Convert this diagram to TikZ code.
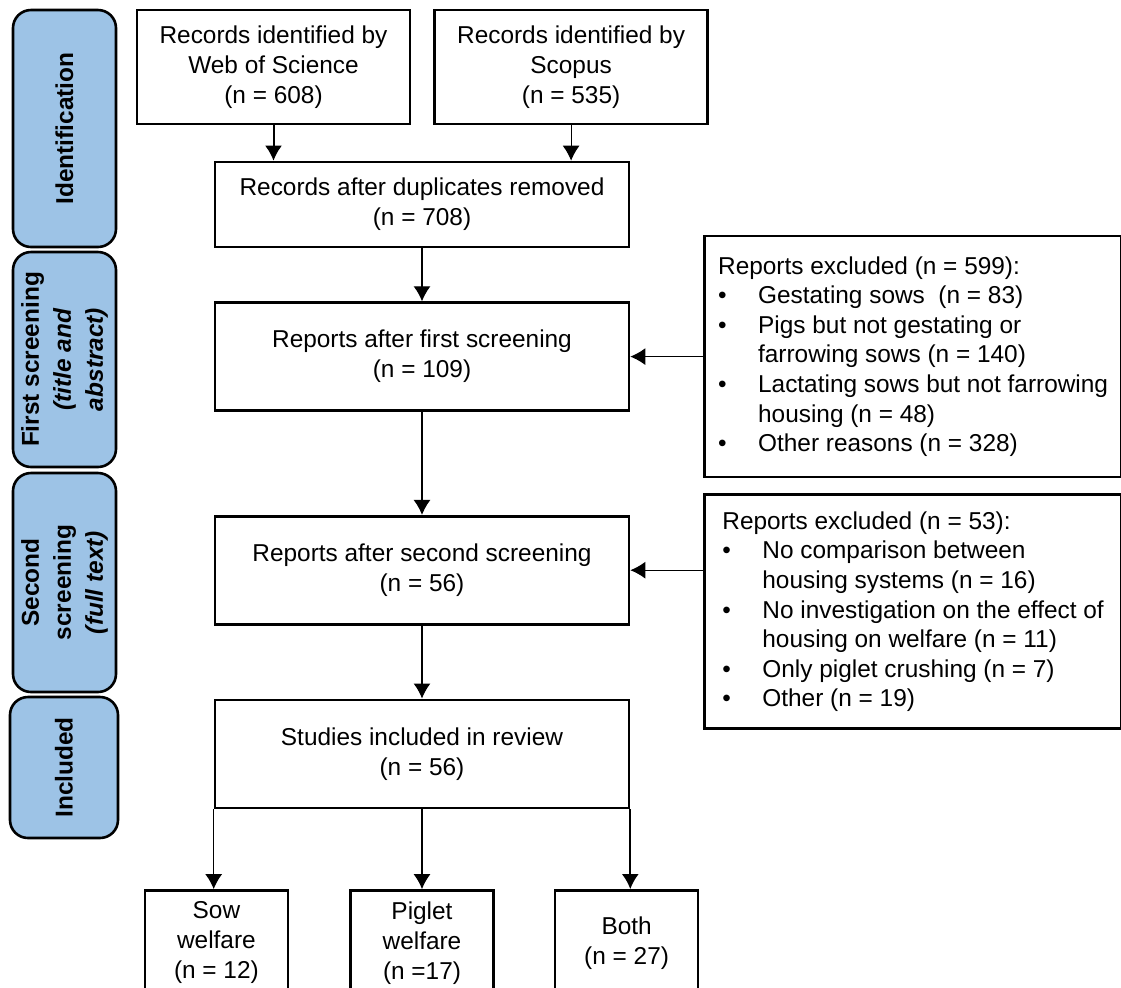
\documentclass[tikz,border=0pt]{standalone}
\usepackage{fontspec}
\setmainfont{Liberation Sans}
\usetikzlibrary{arrows.meta,positioning}
\definecolor{phaseblue}{RGB}{157,195,230}
\newcommand{\exbul}{\makebox[20pt][l]{\textbullet}}
\newcommand{\exind}{\hspace*{20pt}}

\begin{document}
\begin{tikzpicture}[>={Latex[length=7.5pt,width=8.5pt]},node distance=30pt,font=\fontsize{12.2}{15}\selectfont]
  \tikzstyle{flowbox}=[draw,line width=1.3pt,align=center,inner sep=2pt]
  \tikzstyle{stagebox}=[flowbox,minimum width=207pt,minimum height=54pt]
  \tikzstyle{outbox}=[flowbox,minimum width=71.5pt,minimum height=52.5pt]
  \tikzstyle{exclbox}=[draw,line width=1.3pt,align=left,minimum width=208.5pt,font=\fontsize{12.2}{14.8}\selectfont]
  \tikzstyle{phasebar}=[draw,line width=1.3pt,rounded corners=9pt,fill=phaseblue,rotate=90,align=center,minimum height=51.5pt,font=\bfseries\fontsize{12.2}{16}\selectfont]
  \tikzstyle{thinarrow}=[->,line width=0.6pt]
  \tikzstyle{thickarrow}=[->,line width=1pt]
  \useasboundingbox (0,0) rectangle (560.5pt,-493.5pt);

  % phases on the left
  \node[phasebar,minimum width=118.5pt] (idbar) at (32.25pt,-64.25pt) {Identification};
  \node[phasebar,minimum width=107.5pt] (fsbar) at (32.25pt,-179.75pt) {First screening\\\textit{(title and}\\\textit{abstract)}};
  \node[phasebar,minimum width=109.5pt] (ssbar) at (32.25pt,-291.25pt) {Second\\screening\\\textit{(full text)}};
  \node[phasebar,minimum width=70.5pt,minimum height=54pt] (incbar) at (32pt,-383.75pt) {Included};

  % main flow
  \node[flowbox,minimum width=136.5pt,minimum height=57pt] (wos) at (136.75pt,-33.5pt) {Records identified by\\Web of Science\\(n = 608)};
  \node[flowbox,minimum width=136.5pt,minimum height=57pt,right=11pt of wos] (scopus) {Records identified by\\Scopus\\(n = 535)};
  \node[stagebox,minimum height=42.5pt] (dup) at (211pt,-102.25pt) {Records after duplicates removed\\(n = 708)};
  \node[stagebox,below=26.5pt of dup] (first) {Reports after first screening\\(n = 109)};
  \node[stagebox,below=51.5pt of first] (second) {Reports after second screening\\(n = 56)};
  \node[stagebox,below=36.5pt of second] (studies) {Studies included in review\\(n = 56)};

  % exclusions
  \node[exclbox,minimum height=120.5pt,right=36.5pt of first] (excl1) {Reports excluded (n = 599):\\
    \exbul Gestating sows\ \ (n = 83)\\
    \exbul Pigs but not gestating or\\
    \exind farrowing sows (n = 140)\\
    \exbul Lactating sows but not farrowing\\
    \exind housing (n = 48)\\
    \exbul Other reasons (n = 328)};
  \node[exclbox,minimum height=117pt,below=7.5pt of excl1] (excl2) {Reports excluded (n = 53):\\
    \exbul No comparison between\\
    \exind housing systems (n = 16)\\
    \exbul No investigation on the effect of\\
    \exind housing on welfare (n = 11)\\
    \exbul Only piglet crushing (n = 7)\\
    \exbul Other (n = 19)};

  % outcomes
  \node[outbox,below=40pt of studies] (piglet) {Piglet\\welfare\\(n =17)};
  \node[outbox,left=30pt of piglet] (sow) {Sow\\welfare\\(n = 12)};
  \node[outbox,right=29.5pt of piglet] (both) {Both\\(n = 27)};

  \draw[thickarrow] (wos.south) -- (wos.south |- dup.north);
  \draw[thinarrow] (scopus.south) -- (scopus.south |- dup.north);
  \draw[thinarrow] (dup) -- (first);
  \draw[thinarrow] (first) -- (second);
  \draw[thinarrow] (second) -- (studies);
  \draw[thinarrow] (excl1) -- (first);
  \draw[thinarrow] (excl2.west |- second) -- (second);
  \draw[thinarrow] (studies.south west) -- (studies.south west |- sow.north);
  \draw[thinarrow] (studies) -- (piglet);
  \draw[thickarrow] (studies.south east) -- (studies.south east |- both.north);
\end{tikzpicture}
\end{document}
